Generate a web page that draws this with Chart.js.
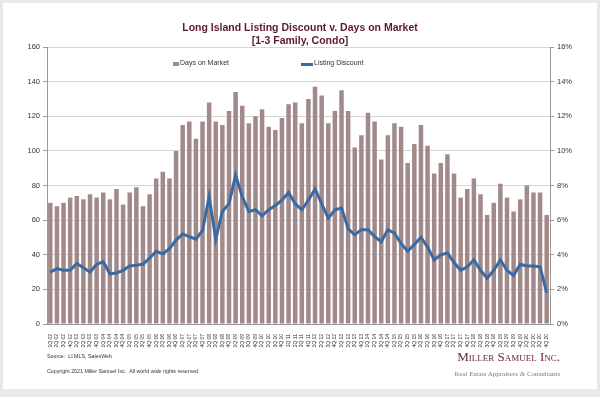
<!DOCTYPE html>
<html>
<head>
<meta charset="utf-8">
<script src="https://cdn.jsdelivr.net/npm/chart.js@4.4.0/dist/chart.umd.min.js"></script>
<style>
  body { margin: 0; background: #e9e9e9; font-family: "Liberation Sans", Arial, sans-serif; }
  #panel { position: absolute; left: 3px; top: 3px; width: 594px; height: 386px; background: #fff; }
  #wrap { position: absolute; left: 0; top: 0; width: 600px; height: 397px; }
  .txt { position: absolute; white-space: nowrap; }
  #title { left: 0; width: 600px; top: 21px; text-align: center; font-weight: bold; font-size: 10.5px; line-height: 13px; color: #5c1a2b; }
  .leg { font-size: 7px; color: #333; top: 59px; }
  .sw { position: absolute; }
  .foot { font-size: 5.3px; color: #333; left: 47px; }
  #logo1 { right: 40px; top: 349px; font-family: "Liberation Serif", "DejaVu Serif", serif; font-variant: small-caps; font-size: 13px; color: #6a1f2c; }
  #logo2 { right: 40px; top: 370px; font-family: "Liberation Serif", "DejaVu Serif", serif; font-size: 7px; color: #7a7a7a; }
</style>
</head>
<body>
<div id="panel"></div>
<div id="wrap"><canvas id="chart" width="600" height="397"></canvas></div>
<div class="txt" id="title">Long Island Listing Discount v. Days on Market<br>[1-3 Family, Condo]</div>
<div class="sw" style="left:173px; top:62px; width:6px; height:4px; background:#a38a8a;"></div>
<div class="txt leg" style="left:180px;">Days on Market</div>
<div class="sw" style="left:301px; top:63px; width:12px; height:3px; background:#3a6aa3;"></div>
<div class="txt leg" style="left:314px;">Listing Discount</div>
<div class="txt foot" style="top:353px;">Source:&nbsp; LI MLS, SalesWeb</div>
<div class="txt foot" style="top:368px;">Copyright 2021 Miller Samuel Inc.&nbsp; All world wide rights reserved.</div>
<div class="txt" id="logo1">Miller Samuel Inc.</div>
<div class="txt" id="logo2">Real Estate Appraisers <i>&amp;</i> Consultants</div>

<script>
  // años y trimestres para las etiquetas del eje x
  const years = ['02','03','04','05','06','07','08','09','10','11','12','13','14','15','16','17','18','19','20'];
  const quarterNames = ['1Q','2Q','3Q','4Q'];

  let labels = [];
  years.forEach(function(y) {
    quarterNames.forEach(function(q) {
      labels.push(q + ' ' + y);
    });
  });

  // Days on Market (barras)
  const daysOnMarket = [
    70, 68, 70, 73, 74, 72, 75, 73, 76, 72, 78, 69, 76, 79, 68, 75, 84, 88, 84, 100,
    115, 117, 107, 117, 128, 117, 115, 123, 134, 126, 116, 120, 124, 114, 112, 119, 127, 128, 116,
    130, 137, 132, 116, 123, 135, 123, 102, 109, 122, 117, 95, 109, 116, 114, 93, 104, 115, 103,
    87, 93, 98, 87, 73, 78, 84, 75, 63, 70, 81, 73, 65, 72, 80, 76, 76, 63
  ];

  // Listing Discount en % (línea)
  const listingDiscount = [
    3.0, 3.2, 3.1, 3.1, 3.5, 3.25, 3.0, 3.45, 3.6, 2.9, 2.95, 3.1, 3.35, 3.4, 3.45, 3.8, 4.2, 4.05, 4.35, 4.85,
    5.2, 5.05, 4.9, 5.4, 7.35, 4.9, 6.5, 6.95, 8.6, 7.35, 6.5, 6.6, 6.25, 6.6, 6.85, 7.15, 7.6, 6.95, 6.6,
    7.15, 7.8, 6.95, 6.1, 6.6, 6.7, 5.5, 5.15, 5.45, 5.45, 5.05, 4.75, 5.45, 5.25, 4.65, 4.2, 4.6, 5.0, 4.45,
    3.7, 4.0, 4.1, 3.55, 3.1, 3.3, 3.7, 3.1, 2.65, 3.1, 3.7, 3.1, 2.8, 3.45, 3.35, 3.35, 3.3, 1.8
  ];

  const tickFont = { family: '"Liberation Sans", Arial, sans-serif', size: 7.5 };

  const ctx = document.getElementById('chart').getContext('2d');
  new Chart(ctx, {
    type: 'bar',
    data: {
      labels: labels,
      datasets: [
        {
          type: 'line',
          label: 'Listing Discount',
          data: listingDiscount,
          yAxisID: 'y1',
          borderColor: '#3a6aa3',
          borderWidth: 3,
          pointRadius: 0,
          tension: 0,
          order: 0
        },
        {
          label: 'Days on Market',
          data: daysOnMarket,
          yAxisID: 'y',
          backgroundColor: '#a38a8a',
          categoryPercentage: 1,
          barPercentage: 0.68,
          order: 1
        }
      ]
    },
    options: {
      responsive: false,
      animation: false,
      layout: { padding: { top: 47, bottom: 40, left: 0, right: 0 } },
      plugins: {
        legend: { display: false },
        tooltip: { enabled: false }
      },
      scales: {
        x: {
          grid: { display: false },
          border: { display: true, color: '#999' },
          ticks: {
            autoSkip: false,
            maxRotation: 90,
            minRotation: 90,
            padding: 2,
            color: '#333',
            font: { family: '"Liberation Sans", Arial, sans-serif', size: 5 }
          },
          afterFit: function(scale) { scale.height = 33; }
        },
        y: {
          position: 'left',
          min: 0,
          max: 160,
          ticks: { stepSize: 20, color: '#333', font: tickFont, padding: 3 },
          grid: { color: '#d6d6d6', tickLength: 4, tickColor: '#999' },
          border: { display: true, color: '#999' },
          afterFit: function(scale) { scale.width = 47; }
        },
        y1: {
          position: 'right',
          min: 0,
          max: 16,
          ticks: {
            stepSize: 2,
            color: '#333',
            font: tickFont,
            padding: 3,
            callback: function(v) { return v + '%'; }
          },
          grid: { drawOnChartArea: false, tickLength: 4, tickColor: '#999' },
          border: { display: true, color: '#999' },
          afterFit: function(scale) { scale.width = 50; }
        }
      }
    }
  });
</script>
</body>
</html>
